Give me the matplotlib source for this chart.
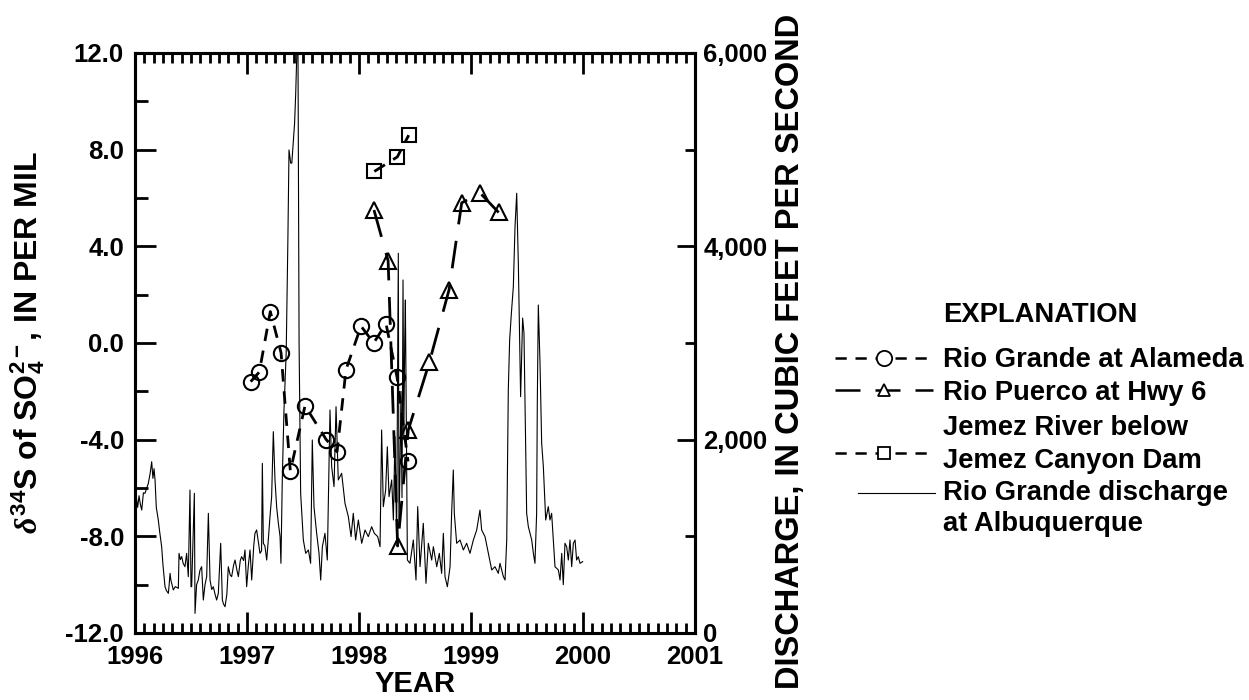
import matplotlib
matplotlib.use("Agg")
import matplotlib.pyplot as plt
from matplotlib.ticker import MultipleLocator, FuncFormatter
from matplotlib.lines import Line2D

plt.rcParams['font.family'] = ['Liberation Sans', 'DejaVu Sans']
plt.rcParams['font.weight'] = 'bold'
plt.rcParams['mathtext.fontset'] = 'custom'
plt.rcParams['mathtext.rm'] = 'Liberation Sans:bold'
plt.rcParams['mathtext.it'] = 'Liberation Serif:italic'
plt.rcParams['mathtext.bf'] = 'Liberation Sans:bold'

# delta-34S of sulfate, per mil
alameda_year = [1997.033, 1997.110, 1997.208, 1997.304, 1997.387, 1997.518, 1997.708,
                1997.804, 1997.884, 1998.018, 1998.131, 1998.241, 1998.339, 1998.438]
alameda_d34s = [-1.6, -1.2, 1.3, -0.4, -5.3, -2.6, -4.0, -4.5, -1.1, 0.7, 0.0, 0.8, -1.4, -4.9]

puerco_year = [1998.134, 1998.260, 1998.345, 1998.440, 1998.628, 1998.804, 1998.917,
               1999.083, 1999.247]
puerco_d34s = [5.5, 3.4, -8.4, -3.6, -0.8, 2.2, 5.8, 6.2, 5.4]

jemez_year = [1998.137, 1998.342, 1998.444]
jemez_d34s = [7.1, 7.7, 8.6]

# Rio Grande discharge at Albuquerque, cubic feet per second
dq_year = [
    1996.000, 1996.012, 1996.024, 1996.036, 1996.048, 1996.060, 1996.075, 1996.089,
    1996.105, 1996.119, 1996.135, 1996.149, 1996.160, 1996.170, 1996.179, 1996.190,
    1996.208, 1996.220, 1996.238, 1996.250, 1996.268, 1996.280, 1996.298, 1996.305,
    1996.313, 1996.320, 1996.342, 1996.360, 1996.387, 1996.393, 1996.405, 1996.417,
    1996.430, 1996.446, 1996.461, 1996.476, 1996.491, 1996.500, 1996.506, 1996.530,
    1996.536, 1996.550, 1996.565, 1996.580, 1996.595, 1996.610, 1996.625, 1996.640,
    1996.655, 1996.670, 1996.685, 1996.699, 1996.715, 1996.729, 1996.744, 1996.765,
    1996.780, 1996.790, 1996.804, 1996.820, 1996.833, 1996.850, 1996.863, 1996.880,
    1996.893, 1996.910, 1996.923, 1996.940, 1996.952, 1996.970, 1996.982, 1996.997,
    1997.012, 1997.027, 1997.042, 1997.060, 1997.071, 1997.086, 1997.100, 1997.116,
    1997.130, 1997.137, 1997.146, 1997.160, 1997.176, 1997.190, 1997.205, 1997.220,
    1997.235, 1997.250, 1997.265, 1997.280, 1997.295, 1997.303, 1997.315, 1997.330,
    1997.350, 1997.365, 1997.375, 1997.390, 1997.400, 1997.410, 1997.425, 1997.435,
    1997.445, 1997.455, 1997.465, 1997.479, 1997.503, 1997.524, 1997.548, 1997.568,
    1997.583, 1997.598, 1997.622, 1997.643, 1997.658, 1997.673, 1997.696, 1997.717,
    1997.741, 1997.756, 1997.777, 1997.795, 1997.815, 1997.845, 1997.875, 1997.905,
    1997.929, 1997.949, 1997.970, 1997.994, 1998.024, 1998.054, 1998.083, 1998.113,
    1998.137, 1998.167, 1998.188, 1998.202, 1998.217, 1998.238, 1998.253, 1998.268,
    1998.292, 1998.307, 1998.321, 1998.336, 1998.351, 1998.357, 1998.366, 1998.375,
    1998.384, 1998.393, 1998.400, 1998.408, 1998.414, 1998.420, 1998.432, 1998.455,
    1998.485, 1998.509, 1998.524, 1998.545, 1998.574, 1998.598, 1998.619, 1998.649,
    1998.664, 1998.694, 1998.717, 1998.738, 1998.753, 1998.768, 1998.789, 1998.813,
    1998.827, 1998.842, 1998.851, 1998.872, 1998.902, 1998.932, 1998.961, 1998.991,
    1999.021, 1999.051, 1999.080, 1999.095, 1999.125, 1999.155, 1999.185, 1999.214,
    1999.244, 1999.259, 1999.289, 1999.304, 1999.319, 1999.333, 1999.345, 1999.360,
    1999.378, 1999.393, 1999.408, 1999.423, 1999.443, 1999.461, 1999.473, 1999.497,
    1999.512, 1999.542, 1999.557, 1999.571, 1999.586, 1999.592, 1999.601, 1999.616,
    1999.631, 1999.646, 1999.667, 1999.690, 1999.705, 1999.720, 1999.735, 1999.750,
    1999.780, 1999.795, 1999.810, 1999.824, 1999.839, 1999.854, 1999.869, 1999.884,
    1999.899, 1999.914, 1999.929, 1999.943, 1999.958, 1999.973, 1999.997,
]
dq_cfs = [
    1240, 1400, 1300, 1420, 1330, 1272, 1450, 1445,
    1500, 1548, 1650, 1772, 1600, 1700, 1583, 1300,
    1169, 1050, 893, 700, 479, 440, 410, 500,
    617, 550, 445, 480, 462, 824, 760, 790,
    720, 686, 824, 583, 1479, 480, 479, 1445,
    203, 500, 548, 650, 686, 341, 500, 583,
    1238, 548, 450, 479, 400, 341, 410, 928,
    341, 300, 272, 400, 686, 600, 583, 700,
    755, 650, 583, 750, 790, 750, 859, 479,
    700, 859, 548, 900, 1031, 1066, 950, 824,
    850, 1755, 928, 900, 755, 962, 1200, 1410,
    2083, 1583, 1300, 1135, 1000, 721, 1583, 2300,
    2900, 4066, 4997, 4862, 4860, 5031, 5276, 5586,
    6000, 6100, 3000, 1445, 962, 824, 859, 721,
    1997, 1307, 1031, 824, 548, 893, 1031, 755,
    2307, 1720, 1514, 2341, 1583, 1652, 1341, 1203,
    997, 1238, 962, 1169, 928, 1066, 997, 1100,
    1031, 997, 893, 2100, 1307, 1479, 1927, 1410,
    1583, 1169, 2031, 997, 3928, 1100, 1700, 2500,
    1400, 3652, 2000, 3000, 3445, 2500, 755, 721,
    962, 548, 1307, 686, 1135, 514, 928, 755,
    893, 686, 824, 617, 1031, 583, 479, 686,
    1238, 1686, 1238, 928, 962, 859, 928, 824,
    962, 1066, 1272, 1066, 997, 824, 652, 686,
    617, 721, 583, 548, 962, 2514, 3031, 3300,
    3583, 4203, 4549, 3800, 2445, 3258, 3100, 1238,
    1100, 962, 824, 721, 1238, 2379, 3393, 2800,
    1962, 1720, 1169, 1307, 1169, 1238, 962, 686,
    652, 548, 824, 500, 928, 893, 755, 962,
    686, 928, 962, 755, 790, 721, 738,
]

year_ticks = [1996, 1997, 1998, 1999, 2000, 2001]
d34s_ticks = [-12.0, -8.0, -4.0, 0.0, 4.0, 8.0, 12.0]
cfs_ticks = [0, 2000, 4000, 6000]

W, H = 1249, 700
fig = plt.figure(figsize=(W / 100, H / 100), dpi=100)
ax = fig.add_axes([135 / W, 1 - 633 / H, 560 / W, 580 / H])
ax2 = ax.twinx()

ax2.plot(dq_year, dq_cfs, color='black', lw=0.8, zorder=1)

mk = dict(markerfacecolor='none', markeredgecolor='black', markeredgewidth=1.5,
          color='black', lw=2.0)
ax.plot(alameda_year, alameda_d34s, marker='o', markersize=11, dashes=(4.5, 3.5), **mk)
ax.plot(puerco_year, puerco_d34s, marker='^', markersize=11, dashes=(10, 6), **mk)
ax.plot(jemez_year, jemez_d34s, marker='s', markersize=10, dashes=(4.5, 3.5), **mk)
ax.set_zorder(ax2.get_zorder() + 1)
ax.patch.set_visible(False)

ax.set_xlim(year_ticks[0], year_ticks[-1])
ax.set_ylim(d34s_ticks[0], d34s_ticks[-1])
ax2.set_ylim(cfs_ticks[0], cfs_ticks[-1])

ax.set_xticks(year_ticks)
ax.xaxis.set_minor_locator(MultipleLocator(1 / 12))
ax.set_yticks(d34s_ticks)
ax.yaxis.set_minor_locator(MultipleLocator(2))
ax.yaxis.set_major_formatter(FuncFormatter(lambda v, p: f"{v:.1f}"))
ax2.set_yticks(cfs_ticks)
ax2.yaxis.set_minor_locator(MultipleLocator(1000))
ax2.yaxis.set_major_formatter(FuncFormatter(lambda v, p: f"{v:,.0f}"))

tfs = 18.5
for a in (ax, ax2):
    for s in a.spines.values():
        s.set_linewidth(2.2)
ax.tick_params(axis='x', which='both', direction='in', top=True, bottom=True,
               labelsize=tfs, pad=9, width=2.0)
ax.tick_params(axis='x', which='major', length=15)
ax.tick_params(axis='x', which='minor', length=7)
ax.tick_params(axis='y', which='both', direction='in', left=True, right=False,
               labelsize=tfs, pad=8, width=2.0)
ax.tick_params(axis='y', which='major', length=15)
ax.tick_params(axis='y', which='minor', length=9)
ax2.tick_params(axis='y', which='both', direction='in', labelsize=tfs, pad=6, width=2.0)
ax2.tick_params(axis='y', which='major', length=13)
ax2.tick_params(axis='y', which='minor', length=7)
for lab in ax.get_xticklabels() + ax.get_yticklabels() + ax2.get_yticklabels():
    lab.set_fontweight('bold')

ax.set_xlabel('YEAR', fontsize=21, fontweight='bold', labelpad=0)
ax.set_ylabel(r'$\delta^{34}$S of SO$_4^{2-}$, IN PER MIL', fontsize=23,
              fontweight='bold', labelpad=13)
ax2.set_ylabel('DISCHARGE, IN CUBIC FEET PER SECOND', fontsize=23.5,
               fontweight='bold')
ax2.yaxis.set_label_coords(1.143, 0.486)

# explanation block drawn in figure pixels
lg = fig.add_axes([0, 0, 1, 1])
lg.set_xlim(0, W)
lg.set_ylim(H, 0)
lg.axis('off')
fs = 19.7
lg.text(943, 315, 'EXPLANATION', fontsize=fs, fontweight='bold', va='center')
entries = [
    (358, 'o', 11, (4.5, 3.5), ['Rio Grande at Alameda']),
    (390, '^', 9, (10, 6), ['Rio Puerco at Hwy 6']),
    (453, 's', 9, (4.5, 3.5), ['Jemez River below', 'Jemez Canyon Dam']),
]
text_y = [[360], [393], [428, 461]]
for (y, m, ms, d, labels), ty in zip(entries, text_y):
    lg.add_line(Line2D([835, 933], [y, y], color='black', lw=1.8, dashes=d))
    lg.add_line(Line2D([884], [y], marker=m, markersize=ms, markerfacecolor='white',
                       markeredgecolor='black', markeredgewidth=1.3, lw=0))
    for t, yy in zip(labels, ty):
        lg.text(943, yy, t, fontsize=fs, fontweight='bold', va='center')
lg.add_line(Line2D([858, 935], [493, 493], color='black', lw=0.8))
lg.text(943, 493, 'Rio Grande discharge', fontsize=fs, fontweight='bold', va='center')
lg.text(943, 524, 'at Albuquerque', fontsize=fs, fontweight='bold', va='center')

fig.savefig('out.png', dpi=100)
